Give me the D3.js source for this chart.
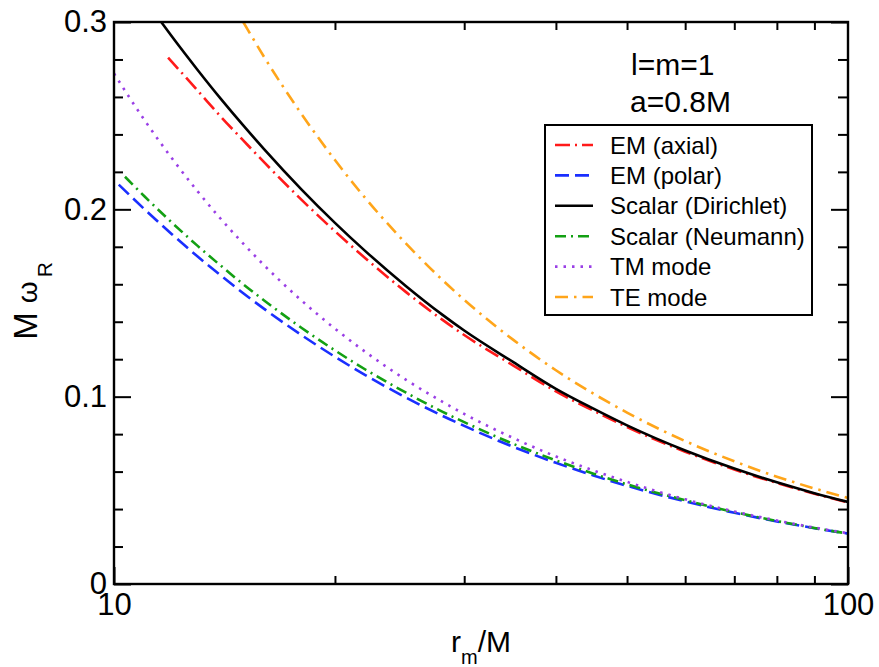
<!DOCTYPE html>
<html>
<head>
<meta charset="utf-8">
<script src="https://cdn.jsdelivr.net/npm/d3@7"></script>
<style>
  body { margin: 0; background: #fff; }
  text { font-family: "Liberation Sans", Arial, sans-serif; fill: #000; }
</style>
</head>
<body>
<div id="chart"></div>
<script>
// Data (x = r_m/M, y = M omega_R)
var emAxialR = [11.85, 12, 13, 14, 15, 16, 18, 20, 22, 25, 28, 30, 35, 40, 45, 50, 60, 70, 80, 90, 100];
var emAxial  = [0.281, 0.2786, 0.2634, 0.2492, 0.2368, 0.2253, 0.2052, 0.1883, 0.1739, 0.1558, 0.1411, 0.1329, 0.1166, 0.1028, 0.0925, 0.0838, 0.0706, 0.0611, 0.0539, 0.0482, 0.0435];

var emPolarR = [10.15, 11, 12, 13, 14, 15, 16, 18, 20, 22, 25, 28, 30, 35, 40, 45, 50, 60, 70, 80, 90, 100];
var emPolar  = [0.2132, 0.2001, 0.1866, 0.1748, 0.1645, 0.1552, 0.1470, 0.1329, 0.1213, 0.1115, 0.0995, 0.0898, 0.0844, 0.0732, 0.0647, 0.0579, 0.0524, 0.0441, 0.0380, 0.0334, 0.0298, 0.0269];

var dirichletR = [11.6, 12, 13, 14, 15, 16, 18, 20, 22, 25, 28, 30, 35, 40, 45, 50, 60, 70, 80, 90, 100];
var dirichlet  = [0.2999, 0.2921, 0.2744, 0.2587, 0.2448, 0.2323, 0.2107, 0.1928, 0.1777, 0.1590, 0.1438, 0.1353, 0.1184, 0.1042, 0.0936, 0.0847, 0.0713, 0.0616, 0.0543, 0.0485, 0.0438];

var neumannR = [10.35, 11, 12, 13, 14, 15, 16, 18, 20, 22, 25, 28, 30, 35, 40, 45, 50, 60, 70, 80, 90, 100];
var neumann  = [0.2174, 0.2070, 0.1928, 0.1805, 0.1697, 0.1600, 0.1515, 0.1368, 0.1247, 0.1145, 0.1021, 0.0920, 0.0864, 0.0748, 0.0660, 0.0589, 0.0532, 0.0447, 0.0384, 0.0336, 0.0299, 0.0269];

var tmR = [10, 11, 12, 13, 14, 15, 16, 18, 20, 22, 25, 28, 30, 35, 40, 45, 50, 60, 70, 80, 90, 100];
var tm  = [0.2725, 0.2477, 0.2271, 0.2096, 0.1946, 0.1817, 0.1703, 0.1514, 0.1363, 0.1239, 0.1090, 0.0973, 0.0908, 0.0779, 0.0681, 0.0606, 0.0545, 0.0452, 0.0387, 0.0339, 0.0301, 0.0271];

var teR = [15, 16, 18, 20, 22, 25, 28, 30, 35, 40, 45, 50, 60, 70, 80, 90, 100];
var te  = [0.300, 0.2816, 0.2510, 0.2263, 0.2060, 0.1817, 0.1624, 0.1517, 0.1303, 0.1141, 0.1016, 0.0915, 0.0763, 0.0655, 0.0573, 0.0510, 0.0459];

var seriesNames = ["EM (axial)", "EM (polar)", "Scalar (Dirichlet)", "Scalar (Neumann)", "TM mode", "TE mode"];

var xMajor = [10, 100];
var xMinor = [20, 30, 40, 50, 60, 70, 80, 90];
var yMajor = [0, 0.1, 0.2, 0.3];
var yMinor = [0.02, 0.04, 0.06, 0.08, 0.12, 0.14, 0.16, 0.18, 0.22, 0.24, 0.26, 0.28];

var W = 879, H = 667;
var margin = { left: 114, right: 848, top: 22, bottom: 584 };

var svg = d3.select("#chart").append("svg")
    .attr("width", W)
    .attr("height", H);

var x = d3.scaleLog().domain([10, 100]).range([margin.left, margin.right]);
var y = d3.scaleLinear().domain([0, 0.3]).range([margin.bottom, margin.top]);

svg.append("clipPath").attr("id", "clip")
  .append("rect")
    .attr("x", margin.left).attr("y", margin.top)
    .attr("width", margin.right - margin.left).attr("height", margin.bottom - margin.top);

// curves
var series = [
  { name: seriesNames[0], xs: emAxialR, ys: emAxial, color: "#ff1a1a", dash: "15,5,2,5" },
  { name: seriesNames[1], xs: emPolarR, ys: emPolar, color: "#1a2fff", dash: "14,6" },
  { name: seriesNames[2], xs: dirichletR, ys: dirichlet, color: "#000000", dash: null },
  { name: seriesNames[3], xs: neumannR, ys: neumann, color: "#13a013", dash: "11,5,2,5" },
  { name: seriesNames[4], xs: tmR, ys: tm, color: "#9a3fe6", dash: "2.5,6" },
  { name: seriesNames[5], xs: teR, ys: te, color: "#ffa51a", dash: "13,6,2.5,6" }
];

var line = d3.line()
    .x(function (d) { return x(d[0]); })
    .y(function (d) { return y(d[1]); })
    .curve(d3.curveMonotoneX);

var g = svg.append("g").attr("clip-path", "url(#clip)");
series.forEach(function (s) {
  var pts = s.xs.map(function (v, i) { return [v, s.ys[i]]; });
  g.append("path")
      .datum(pts)
      .attr("d", line)
      .attr("fill", "none")
      .attr("stroke", s.color)
      .attr("stroke-width", 2.6)
      .attr("stroke-dasharray", s.dash);
});

// axes with inward ticks on all four sides
function styleAxis(sel) {
  sel.select(".domain").remove();
  sel.selectAll(".tick line").attr("stroke", "#000").attr("stroke-width", 2);
  sel.selectAll(".tick text")
      .style("font-family", "'Liberation Sans', Arial, sans-serif")
      .style("font-size", "31px")
      .attr("fill", "#000");
}

svg.append("g").attr("transform", "translate(" + margin.left + ",0)")
    .call(d3.axisLeft(y).tickValues(yMajor).tickSize(-17).tickPadding(7)
      .tickFormat(function (d) { return d === 0 ? "0" : d3.format(".1f")(d); }))
    .call(styleAxis);
svg.append("g").attr("transform", "translate(" + margin.left + ",0)")
    .call(d3.axisLeft(y).tickValues(yMinor).tickSize(-9).tickFormat(""))
    .call(styleAxis);
svg.append("g").attr("transform", "translate(" + margin.right + ",0)")
    .call(d3.axisRight(y).tickValues(yMajor).tickSize(-17).tickFormat(""))
    .call(styleAxis);
svg.append("g").attr("transform", "translate(" + margin.right + ",0)")
    .call(d3.axisRight(y).tickValues(yMinor).tickSize(-10).tickFormat(""))
    .call(styleAxis);

svg.append("g").attr("transform", "translate(0," + margin.bottom + ")")
    .call(d3.axisBottom(x).tickValues(xMajor).tickSize(-17).tickPadding(9)
      .tickFormat(d3.format("d")))
    .call(styleAxis);
svg.append("g").attr("transform", "translate(0," + margin.bottom + ")")
    .call(d3.axisBottom(x).tickValues(xMinor).tickSize(-8).tickFormat(""))
    .call(styleAxis);
svg.append("g").attr("transform", "translate(0," + margin.top + ")")
    .call(d3.axisTop(x).tickValues(xMinor).tickSize(-8).tickFormat(""))
    .call(styleAxis);

// frame
svg.append("rect")
    .attr("x", margin.left).attr("y", margin.top)
    .attr("width", margin.right - margin.left).attr("height", margin.bottom - margin.top)
    .attr("fill", "none").attr("stroke", "#000").attr("stroke-width", 2.4);

// axis titles
var xt = svg.append("text")
    .attr("x", (margin.left + margin.right) / 2).attr("y", 652)
    .attr("text-anchor", "middle")
    .style("font-size", "30px");
xt.append("tspan").text("r");
xt.append("tspan").attr("dy", 12).style("font-size", "20px").text("m");
xt.append("tspan").attr("dy", -12).text("/M");

var yt = svg.append("text")
    .attr("transform", "translate(37,301) rotate(-90)")
    .attr("text-anchor", "middle")
    .style("font-size", "33px");
yt.append("tspan").text("M ");
yt.append("tspan").style("font-size", "28px").text("\u03c9");
yt.append("tspan").attr("dy", 15).attr("dx", 4).style("font-size", "21px").text("R");

// annotation
svg.append("text").attr("x", 631).attr("y", 75).style("font-size", "30px").text("l=m=1");
svg.append("text").attr("x", 630).attr("y", 112).style("font-size", "30px").text("a=0.8M");

// legend
var lg = svg.append("g");
lg.append("rect")
    .attr("x", 545).attr("y", 125)
    .attr("width", 267).attr("height", 190)
    .attr("fill", "#fff").attr("stroke", "#000").attr("stroke-width", 2);

series.forEach(function (s, i) {
  var cy = 145 + i * 30.4;
  lg.append("line")
      .attr("x1", 555).attr("x2", 593)
      .attr("y1", cy).attr("y2", cy)
      .attr("stroke", s.color)
      .attr("stroke-width", 2.6)
      .attr("stroke-dasharray", s.dash);
  lg.append("text")
      .attr("x", 610).attr("y", cy + 8.5)
      .style("font-size", "24px")
      .text(s.name);
});
</script>
</body>
</html>
